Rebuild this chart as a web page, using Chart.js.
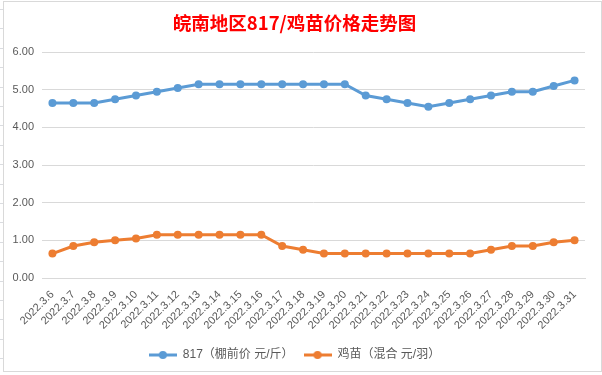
<!DOCTYPE html>
<html>
<head>
<meta charset="utf-8">
<script src="https://cdn.jsdelivr.net/npm/chart.js@4"></script>
<style>
    body { margin: 0; background: #fff; }
    /* faint spreadsheet cells around the chart */
    #sheet {
        position: absolute; left: 0; top: 0; width: 602px; height: 375px;
        background-image: repeating-linear-gradient(to bottom, transparent 0 9px, #dadce0 9px 10px, transparent 10px 19.4px);
    }
    #frame {
        position: absolute; left: 3px; top: 1px; width: 597px; height: 369px;
        border: 1px solid #d9d9d9; background: #fff;
    }
</style>
</head>
<body>
<div id="sheet"></div>
<div id="frame"><canvas id="chart" width="597" height="369"></canvas></div>
<script>
// ─────────────────────────────────────────────
// 皖南地区 817 / 鸡苗 价格走势
// ─────────────────────────────────────────────
const DATES = [
    "2022.3.6", "2022.3.7", "2022.3.8", "2022.3.9", "2022.3.10", "2022.3.11", "2022.3.12",
    "2022.3.13", "2022.3.14", "2022.3.15", "2022.3.16", "2022.3.17", "2022.3.18", "2022.3.19",
    "2022.3.20", "2022.3.21", "2022.3.22", "2022.3.23", "2022.3.24", "2022.3.25", "2022.3.26",
    "2022.3.27", "2022.3.28", "2022.3.29", "2022.3.30", "2022.3.31",
];

// 817（棚前价 元/斤）
const PRICE_817 = [
    4.65, 4.65, 4.65, 4.75, 4.85, 4.95, 5.05,
    5.15, 5.15, 5.15, 5.15, 5.15, 5.15, 5.15,
    5.15, 4.85, 4.75, 4.65, 4.55, 4.65, 4.75,
    4.85, 4.95, 4.95, 5.10, 5.25,
];

// 鸡苗（混合 元/羽）
const PRICE_CHICK = [
    0.65, 0.85, 0.95, 1.00, 1.05, 1.15, 1.15,
    1.15, 1.15, 1.15, 1.15, 0.85, 0.75, 0.65,
    0.65, 0.65, 0.65, 0.65, 0.65, 0.65, 0.65,
    0.75, 0.85, 0.85, 0.95, 1.00,
];

const SERIES_NAMES = ["817（棚前价 元/斤）", "鸡苗（混合 元/羽）"];
const Y_MIN = 0, Y_MAX = 6, Y_STEP = 1;

const BLUE   = "#5b9bd5";
const ORANGE = "#ed7d31";
const GRID   = "#d9d9d9";
const TEXT   = "#595959";
const FONT   = "'Liberation Sans', 'Noto Sans CJK SC', sans-serif";

// legend marker: short line with a dot, like Excel
function legendMarker(color) {
    const c = document.createElement("canvas");
    c.width = 28; c.height = 10;
    const g = c.getContext("2d");
    g.strokeStyle = color; g.lineWidth = 3;
    g.beginPath(); g.moveTo(0, 5); g.lineTo(28, 5); g.stroke();
    g.fillStyle = color;
    g.beginPath(); g.arc(14, 5, 4, 0, Math.PI * 2); g.fill();
    return c;
}
const MARKERS = [legendMarker(BLUE), legendMarker(ORANGE)];

function lineSet(label, data, color) {
    return {
        label, data,
        borderColor: color, backgroundColor: color,
        borderWidth: 3, pointRadius: 4, pointHoverRadius: 4,
        pointBorderWidth: 0, tension: 0,
    };
}

new Chart(document.getElementById("chart"), {
    type: "line",
    data: {
        labels: DATES,
        datasets: [
            lineSet(SERIES_NAMES[0], PRICE_817, BLUE),
            lineSet(SERIES_NAMES[1], PRICE_CHICK, ORANGE),
        ]
    },
    options: {
        responsive: false,
        animation: false,
        layout: { padding: { left: 0, right: 16, top: 0, bottom: 0 } },
        plugins: {
            title: {
                display: true,
                text: "皖南地区817/鸡苗价格走势图",
                color: "#ff0000",
                font: { family: "'Noto Sans CJK SC', sans-serif", size: 18.5, weight: "bold", lineHeight: 1.2 },
                padding: { top: 10, bottom: 18 },
            },
            legend: {
                position: "bottom",
                labels: {
                    color: TEXT,
                    font: { family: FONT, size: 12 },
                    usePointStyle: true,
                    pointStyleWidth: 28,
                    padding: 10,
                    generateLabels: chart =>
                        Chart.defaults.plugins.legend.labels.generateLabels(chart)
                            .map((item, i) => ({ ...item, pointStyle: MARKERS[i] })),
                },
            },
            tooltip: { enabled: false },
        },
        scales: {
            x: {
                offset: true,
                grid: { display: false },
                border: { color: GRID },
                ticks: {
                    color: TEXT, font: { family: FONT, size: 11 },
                    minRotation: 45, maxRotation: 45, autoSkip: false, padding: 2,
                },
                afterFit: s => { s.height = 61; },
            },
            y: {
                min: Y_MIN, max: Y_MAX,
                grid: { color: GRID, drawTicks: false },
                border: { display: false },
                ticks: {
                    stepSize: Y_STEP, padding: 8,
                    color: TEXT, font: { family: FONT, size: 11 },
                    callback: v => v.toFixed(2),
                },
                afterFit: s => { s.width = 38; },
            },
        },
    },
});
</script>
</body>
</html>
